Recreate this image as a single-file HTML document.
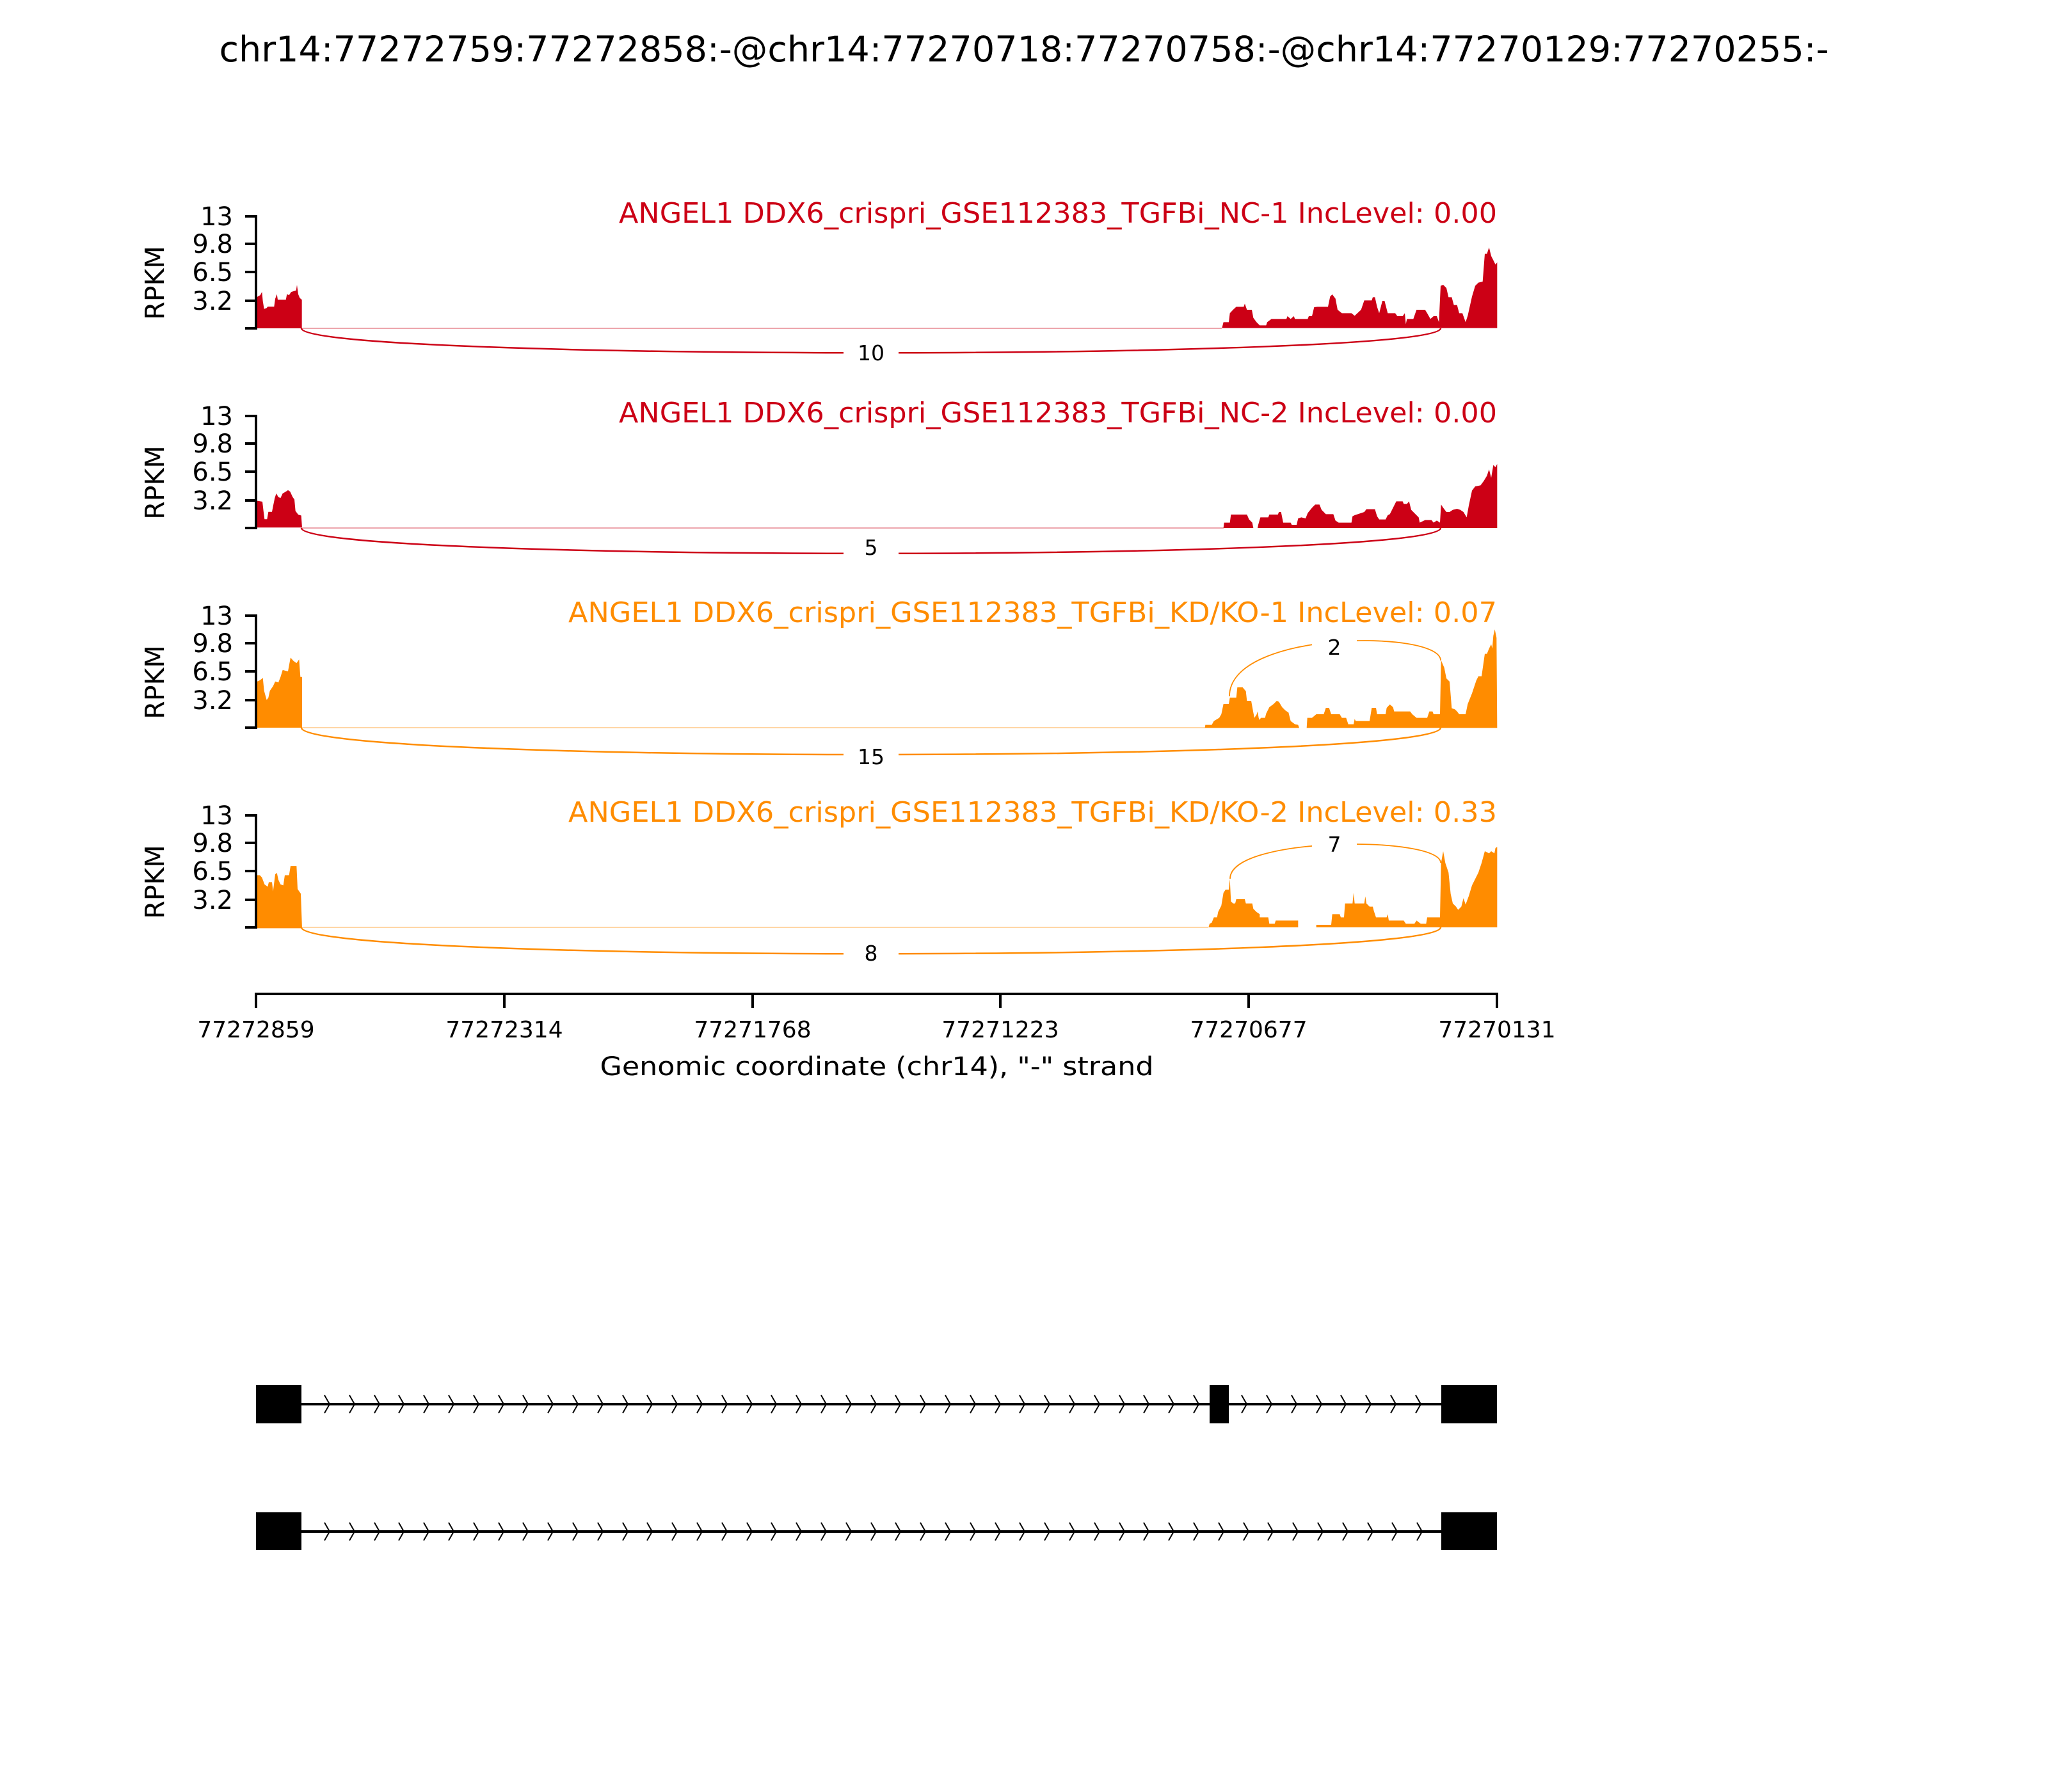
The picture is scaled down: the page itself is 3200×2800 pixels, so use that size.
<!DOCTYPE html>
<html><head><meta charset="utf-8"><style>html,body{margin:0;padding:0;background:#fff}svg{display:block}text{font-family:"DejaVu Sans","Liberation Sans",sans-serif}</style></head>
<body>
<svg width="3200" height="2800" viewBox="0 0 3200 2800" xmlns="http://www.w3.org/2000/svg">
<rect width="3200" height="2800" fill="#fff"/>
<text x="1600" y="96" font-size="55" text-anchor="middle" textLength="2515" lengthAdjust="spacingAndGlyphs">chr14:77272759:77272858:-@chr14:77270718:77270758:-@chr14:77270129:77270255:-</text>

<!-- coverage left -->
<g transform="translate(380,330) scale(0.33333,0.7205)">
<polygon fill="#cc0015" points="65,254 65,186 80,182 88,175 92,195 98,212 110,210 115,207 145,207 150,190 158,180 162,192 200,192 205,180 215,182 225,175 248,172 252,160 258,180 265,188 275,192 275,254"/>
<polygon fill="#cc0015" points="65,686 65,628 90,630 95,650 100,668 112,668 118,652 135,652 140,640 148,622 155,612 165,620 175,622 185,612 200,608 210,605 220,608 232,620 240,625 245,650 258,658 272,660 276,686"/>
<polygon fill="#ff8c00" points="65,1120 65,1020 75,1018 85,1015 92,1012 98,1040 110,1060 118,1055 125,1040 140,1030 150,1020 165,1022 175,1010 185,995 210,998 215,985 222,968 235,975 250,980 262,972 268,1010 276,1010 276,1120"/>
<polygon fill="#ff8c00" points="65,1555 65,1440 78,1440 88,1445 100,1460 115,1465 120,1455 135,1455 140,1475 150,1438 158,1435 165,1450 175,1460 188,1462 195,1440 215,1440 222,1420 240,1420 250,1420 255,1470 270,1480 276,1555"/>
</g>
<!-- coverage right -->
<g transform="translate(1850,330) scale(0.33333)">
<polygon fill="#cc0015" points="178,548 185,520 210,520 215,478 230,462 245,448 280,448 285,433 295,462 318,462 325,500 340,520 355,535 385,535 390,520 410,505 480,505 485,492 500,505 515,492 520,505 580,505 585,492 600,492 610,450 625,448 675,448 685,400 695,390 710,410 720,462 740,478 785,478 800,490 830,462 845,418 880,418 885,403 895,403 905,448 915,478 930,420 940,420 955,478 990,478 1000,492 1025,492 1035,478 1040,530 1045,505 1075,505 1090,462 1130,462 1140,478 1155,505 1170,492 1185,492 1195,520 1203,350 1215,345 1230,360 1240,403 1255,403 1265,440 1280,440 1290,478 1305,478 1320,520 1330,490 1350,400 1365,350 1380,335 1400,330 1410,200 1420,200 1430,170 1440,210 1450,230 1460,250 1468,240 1468,548"/>
<polygon fill="#cc0015" points="185,1485 188,1460 215,1460 220,1422 295,1422 305,1445 320,1460 325,1485 345,1485 348,1470 358,1435 395,1435 400,1422 440,1422 445,1410 455,1410 465,1460 500,1460 505,1470 528,1470 535,1440 550,1435 570,1440 580,1415 600,1390 615,1375 635,1375 645,1400 665,1420 700,1420 710,1450 725,1460 785,1460 790,1430 800,1425 845,1410 855,1397 895,1397 905,1430 915,1445 945,1445 955,1425 965,1420 985,1380 995,1360 1025,1360 1030,1372 1045,1372 1055,1360 1065,1400 1085,1420 1100,1435 1105,1460 1130,1448 1160,1448 1170,1460 1185,1450 1200,1460 1205,1375 1215,1390 1230,1410 1245,1410 1260,1400 1280,1395 1295,1400 1310,1410 1325,1435 1335,1380 1350,1310 1365,1290 1390,1285 1405,1265 1420,1240 1430,1210 1440,1250 1450,1190 1460,1200 1468,1185 1468,1485"/>
</g>
<g transform="translate(1850,950) scale(0.33333)">
<polygon fill="#ff8c00" points="98,562 100,548 130,548 140,530 165,515 175,498 185,450 210,450 215,420 245,420 250,372 275,372 290,390 295,435 315,435 325,490 330,515 340,500 345,485 350,515 355,525 360,515 380,515 385,495 400,465 420,450 435,435 445,440 460,465 475,480 490,490 500,530 520,545 535,548 540,562 575,562 578,515 600,515 620,498 655,498 665,468 680,468 690,498 730,498 740,515 760,515 770,545 795,545 800,520 805,530 870,530 880,468 900,468 905,498 945,498 950,468 965,452 980,465 985,485 1060,485 1070,498 1090,515 1140,515 1150,485 1165,485 1170,498 1200,498 1205,245 1220,280 1230,330 1245,345 1255,470 1270,475 1280,485 1290,498 1320,498 1330,450 1350,400 1370,340 1380,320 1395,320 1410,215 1420,215 1430,190 1440,170 1445,190 1450,130 1457,100 1465,140 1468,562"/>
<polygon fill="#ff8c00" points="115,1497 120,1480 130,1475 140,1450 155,1450 160,1425 175,1395 185,1335 195,1320 210,1320 215,1270 220,1375 230,1385 240,1385 245,1365 285,1365 290,1385 320,1385 325,1410 340,1425 355,1435 355,1450 395,1450 400,1480 425,1480 430,1465 535,1465 535,1497 620,1497 620,1485 690,1485 695,1435 730,1435 735,1450 750,1450 755,1385 790,1385 795,1335 800,1385 845,1385 850,1352 855,1385 870,1400 885,1400 890,1420 900,1450 950,1450 955,1435 960,1465 1030,1465 1040,1480 1080,1480 1090,1465 1110,1480 1135,1480 1140,1450 1200,1450 1205,1195 1215,1140 1225,1195 1240,1240 1250,1340 1260,1385 1275,1400 1285,1415 1300,1400 1310,1360 1320,1390 1335,1350 1350,1300 1365,1270 1380,1240 1395,1195 1410,1140 1420,1145 1430,1150 1440,1140 1455,1150 1460,1125 1468,1120 1468,1497"/>
</g>

<!-- baselines -->
<g stroke-width="2" opacity="0.35">
<line x1="471" y1="513" x2="1909" y2="513" stroke="#cc0015"/>
<line x1="471" y1="825" x2="1912" y2="825" stroke="#cc0015"/>
<line x1="471" y1="1137" x2="1883" y2="1137" stroke="#ff8c00"/>
<line x1="471" y1="1449" x2="1888" y2="1449" stroke="#ff8c00"/>
</g>
<!-- arcs -->
<g fill="none" stroke-width="2.5">
<path d="M471,513 C471,564 2251,564 2251,513" stroke="#cc0015"/>
<path d="M471,825 C471,878 2251,878 2251,825" stroke="#cc0015"/>
<path d="M471,1137 C471,1193 2251,1193 2251,1137" stroke="#ff8c00"/>
<path d="M471,1449 C471,1504 2251,1504 2251,1449" stroke="#ff8c00"/>
<path d="M1921,1088 C1921,984 2251,984 2251,1032" stroke="#ff8c00" stroke-width="1.8"/>
<path d="M1922,1373 C1922,1306 2251,1306 2251,1348" stroke="#ff8c00" stroke-width="1.8"/>
</g>
<g fill="#fff">
<rect x="1318" y="520" width="86" height="60"/>
<rect x="1318" y="830" width="86" height="60"/>
<rect x="1318" y="1150" width="86" height="60"/>
<rect x="1318" y="1460" width="86" height="60"/>
<rect x="2050" y="980" width="70" height="60"/>
<rect x="2050" y="1290" width="70" height="60"/>
</g>
<g font-size="33" text-anchor="middle">
<text x="1361" y="563">10</text>
<text x="1361" y="867">5</text>
<text x="1361" y="1194">15</text>
<text x="1361" y="1501">8</text>
<text x="2085" y="1023">2</text>
<text x="2085" y="1331">7</text>
</g>

<!-- y axes -->
<g stroke="#000" stroke-width="4">
<line x1="400" y1="336" x2="400" y2="515"/><line x1="400" y1="648" x2="400" y2="827"/><line x1="400" y1="960" x2="400" y2="1139"/><line x1="400" y1="1272" x2="400" y2="1451"/>
</g>
<g id="ticks" stroke="#000" stroke-width="4">
<line x1="383" y1="338" x2="400" y2="338"/><line x1="383" y1="381" x2="400" y2="381"/><line x1="383" y1="425" x2="400" y2="425"/><line x1="383" y1="470" x2="400" y2="470"/><line x1="383" y1="513" x2="400" y2="513"/>
</g>
<use href="#ticks" y="312"/><use href="#ticks" y="624"/><use href="#ticks" y="936"/>
<g id="yl" font-size="40" text-anchor="end">
<text x="364" y="352">13</text><text x="364" y="395">9.8</text><text x="364" y="439">6.5</text><text x="364" y="484">3.2</text>
<text transform="translate(256,442) rotate(-90)" text-anchor="middle" font-size="41">RPKM</text>
</g>
<use href="#yl" y="312"/><use href="#yl" y="624"/><use href="#yl" y="936"/>

<!-- panel titles -->
<g font-size="44" text-anchor="end">
<text x="2339" y="348" fill="#cc0015" textLength="1372" lengthAdjust="spacingAndGlyphs">ANGEL1 DDX6_crispri_GSE112383_TGFBi_NC-1 IncLevel: 0.00</text>
<text x="2339" y="660" fill="#cc0015" textLength="1372" lengthAdjust="spacingAndGlyphs">ANGEL1 DDX6_crispri_GSE112383_TGFBi_NC-2 IncLevel: 0.00</text>
<text x="2339" y="972" fill="#ff8c00" textLength="1451" lengthAdjust="spacingAndGlyphs">ANGEL1 DDX6_crispri_GSE112383_TGFBi_KD/KO-1 IncLevel: 0.07</text>
<text x="2339" y="1284" fill="#ff8c00" textLength="1451" lengthAdjust="spacingAndGlyphs">ANGEL1 DDX6_crispri_GSE112383_TGFBi_KD/KO-2 IncLevel: 0.33</text>
</g>

<!-- x axis -->
<g stroke="#000" stroke-width="4">
<line x1="398" y1="1553" x2="2341" y2="1553"/>
<line x1="400" y1="1553" x2="400" y2="1575"/><line x1="788" y1="1553" x2="788" y2="1575"/><line x1="1176" y1="1553" x2="1176" y2="1575"/><line x1="1563" y1="1553" x2="1563" y2="1575"/><line x1="1951" y1="1553" x2="1951" y2="1575"/><line x1="2339" y1="1553" x2="2339" y2="1575"/>
</g>
<g font-size="36" text-anchor="middle">
<text x="400" y="1621">77272859</text><text x="788" y="1621">77272314</text><text x="1176" y="1621">77271768</text><text x="1563" y="1621">77271223</text><text x="1951" y="1621">77270677</text><text x="2339" y="1621">77270131</text>
</g>
<text x="1370" y="1680" font-size="40" text-anchor="middle" textLength="865" lengthAdjust="spacingAndGlyphs">Genomic coordinate (chr14), "-" strand</text>

<!-- gene models -->
<g fill="#000">
<rect x="400" y="2164" width="71" height="60"/><rect x="1890" y="2164" width="30" height="60"/><rect x="2252" y="2164" width="87" height="60"/>
<rect x="400" y="2363" width="71" height="59"/><rect x="2252" y="2363" width="87" height="59"/>
</g>
<g stroke="#000" stroke-width="4">
<line x1="471" y1="2194" x2="2252" y2="2194"/><line x1="471" y1="2393" x2="2252" y2="2393"/>
</g>
<g fill="none" stroke="#000" stroke-width="2">
<path d="M507,2180 L515,2194 L507,2208 M546,2180 L554,2194 L546,2208 M585,2180 L593,2194 L585,2208 M623,2180 L631,2194 L623,2208 M662,2180 L670,2194 L662,2208 M701,2180 L709,2194 L701,2208 M740,2180 L748,2194 L740,2208 M779,2180 L787,2194 L779,2208 M817,2180 L825,2194 L817,2208 M856,2180 L864,2194 L856,2208 M895,2180 L903,2194 L895,2208 M934,2180 L942,2194 L934,2208 M973,2180 L981,2194 L973,2208 M1011,2180 L1019,2194 L1011,2208 M1050,2180 L1058,2194 L1050,2208 M1089,2180 L1097,2194 L1089,2208 M1128,2180 L1136,2194 L1128,2208 M1167,2180 L1175,2194 L1167,2208 M1205,2180 L1213,2194 L1205,2208 M1244,2180 L1252,2194 L1244,2208 M1283,2180 L1291,2194 L1283,2208 M1322,2180 L1330,2194 L1322,2208 M1361,2180 L1369,2194 L1361,2208 M1399,2180 L1407,2194 L1399,2208 M1438,2180 L1446,2194 L1438,2208 M1477,2180 L1485,2194 L1477,2208 M1516,2180 L1524,2194 L1516,2208 M1555,2180 L1563,2194 L1555,2208 M1593,2180 L1601,2194 L1593,2208 M1632,2180 L1640,2194 L1632,2208 M1671,2180 L1679,2194 L1671,2208 M1710,2180 L1718,2194 L1710,2208 M1749,2180 L1757,2194 L1749,2208 M1787,2180 L1795,2194 L1787,2208 M1826,2180 L1834,2194 L1826,2208 M1865,2180 L1873,2194 L1865,2208 M1940,2180 L1948,2194 L1940,2208 M1979,2180 L1987,2194 L1979,2208 M2018,2180 L2026,2194 L2018,2208 M2057,2180 L2065,2194 L2057,2208 M2095,2180 L2103,2194 L2095,2208 M2134,2180 L2142,2194 L2134,2208 M2173,2180 L2181,2194 L2173,2208 M2212,2180 L2220,2194 L2212,2208"/>
<path d="M507,2379 L515,2393 L507,2407 M546,2379 L554,2393 L546,2407 M585,2379 L593,2393 L585,2407 M623,2379 L631,2393 L623,2407 M662,2379 L670,2393 L662,2407 M701,2379 L709,2393 L701,2407 M740,2379 L748,2393 L740,2407 M779,2379 L787,2393 L779,2407 M817,2379 L825,2393 L817,2407 M856,2379 L864,2393 L856,2407 M895,2379 L903,2393 L895,2407 M934,2379 L942,2393 L934,2407 M973,2379 L981,2393 L973,2407 M1011,2379 L1019,2393 L1011,2407 M1050,2379 L1058,2393 L1050,2407 M1089,2379 L1097,2393 L1089,2407 M1128,2379 L1136,2393 L1128,2407 M1167,2379 L1175,2393 L1167,2407 M1205,2379 L1213,2393 L1205,2407 M1244,2379 L1252,2393 L1244,2407 M1283,2379 L1291,2393 L1283,2407 M1322,2379 L1330,2393 L1322,2407 M1361,2379 L1369,2393 L1361,2407 M1399,2379 L1407,2393 L1399,2407 M1438,2379 L1446,2393 L1438,2407 M1477,2379 L1485,2393 L1477,2407 M1516,2379 L1524,2393 L1516,2407 M1555,2379 L1563,2393 L1555,2407 M1593,2379 L1601,2393 L1593,2407 M1632,2379 L1640,2393 L1632,2407 M1671,2379 L1679,2393 L1671,2407 M1710,2379 L1718,2393 L1710,2407 M1749,2379 L1757,2393 L1749,2407 M1787,2379 L1795,2393 L1787,2407 M1826,2379 L1834,2393 L1826,2407 M1865,2379 L1873,2393 L1865,2407 M1904,2379 L1912,2393 L1904,2407 M1943,2379 L1951,2393 L1943,2407 M1981,2379 L1989,2393 L1981,2407 M2020,2379 L2028,2393 L2020,2407 M2059,2379 L2067,2393 L2059,2407 M2098,2379 L2106,2393 L2098,2407 M2137,2379 L2145,2393 L2137,2407 M2175,2379 L2183,2393 L2175,2407 M2214,2379 L2222,2393 L2214,2407"/>
</g>
</svg>
</body></html>
